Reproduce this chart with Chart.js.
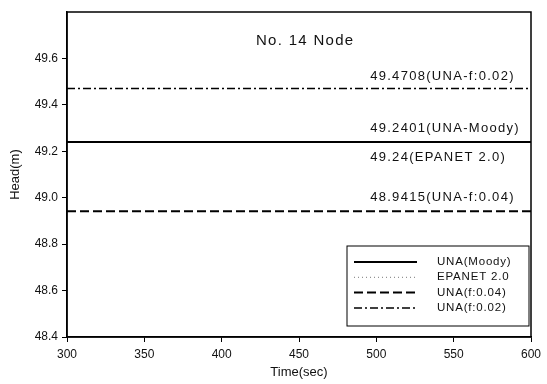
<!DOCTYPE html>
<html lang="en">
<head>
<meta charset="UTF-8" />
<title>No. 14 Node</title>
<script src="https://cdn.jsdelivr.net/npm/chart.js"></script>
<style>
  html, body { margin: 0; padding: 0; background: #fff; }
  #wrap { width: 547px; height: 384px; }
</style>
</head>
<body>
<div id="wrap"><canvas id="chart" width="547" height="384"></canvas></div>
<script>
// time axis (sec)
const times = [300, 600];

// head values (m), constant over time
const seriesNames = ["UNA(Moody)", "EPANET 2.0", "UNA(f:0.04)", "UNA(f:0.02)"];
const unaMoody = [49.2401, 49.2401];
const epanet = [49.24, 49.24];
const unaF004 = [48.9415, 48.9415];
const unaF002 = [49.4708, 49.4708];

// text labels written in the plot
const noteTexts = ["49.4708(UNA-f:0.02)", "49.2401(UNA-Moody)", "49.24(EPANET 2.0)", "48.9415(UNA-f:0.04)"];
const noteValues = [49.4708, 49.2401, 49.24, 48.9415];
const titleText = "No. 14 Node";

const yTicks = [48.4, 48.6, 48.8, 49.0, 49.2, 49.4, 49.6];
const xTicks = [300, 350, 400, 450, 500, 550, 600];

const FONT = "'Liberation Sans', Arial, sans-serif";

function pts(vals) {
    return times.map((t, i) => ({ x: t, y: vals[i] }));
}

// per-series line styles
const styles = [
    { width: 2, dash: [] },
    { width: 1, dash: [1, 3] },
    { width: 2, dash: [9, 4] },
    { width: 1.5, dash: [8, 3, 2, 3] },
];

const seriesData = [unaMoody, epanet, unaF004, unaF002];

const datasets = seriesData.map((vals, i) => ({
    label: seriesNames[i],
    data: pts(vals),
    borderColor: i === 1 ? "#777" : "#000",
    borderWidth: styles[i].width,
    borderDash: styles[i].dash,
    pointRadius: 0,
    fill: false,
    tension: 0,
}));

// frame + text labels + legend box
const decorations = {
    id: "decorations",
    afterDatasetsDraw(chart) {
        const { ctx, chartArea: a, scales } = chart;
        const xs = scales.x, ys = scales.y;
        ctx.save();

        // frame around plot
        ctx.strokeStyle = "#000";
        ctx.lineWidth = 1.5;
        ctx.setLineDash([]);
        ctx.strokeRect(a.left, a.top, a.right - a.left, a.bottom - a.top);

        // title inside plot
        ctx.fillStyle = "#111";
        ctx.font = "15px " + FONT;
        ctx.letterSpacing = "1.3px";
        ctx.textAlign = "center";
        ctx.textBaseline = "middle";
        ctx.fillText(titleText, xs.getPixelForValue(454), ys.getPixelForValue(49.677));

        // value notes
        ctx.font = "13px " + FONT;
        ctx.letterSpacing = "1.3px";
        ctx.textAlign = "left";
        const offsets = [-12, -14, 15, -14];
        const lx = xs.getPixelForValue(496);
        noteTexts.forEach((t, i) => {
            ctx.fillText(t, lx, ys.getPixelForValue(noteValues[i]) + offsets[i]);
        });

        // legend box
        const bx = a.left + 280, by = a.top + 234, bw = 182, bh = 80;
        ctx.fillStyle = "#fff";
        ctx.fillRect(bx, by, bw, bh);
        ctx.lineWidth = 1;
        ctx.strokeRect(bx, by, bw, bh);
        ctx.font = "11.5px " + FONT;
        ctx.letterSpacing = "0.8px";
        ctx.textAlign = "left";
        chart.data.datasets.forEach((ds, i) => {
            const yy = by + 16 + i * 15.3;
            ctx.strokeStyle = ds.borderColor;
            ctx.lineWidth = ds.borderWidth;
            ctx.setLineDash(ds.borderDash);
            ctx.beginPath();
            ctx.moveTo(bx + 7, yy);
            ctx.lineTo(bx + 70, yy);
            ctx.stroke();
            ctx.fillStyle = "#111";
            ctx.fillText(ds.label, bx + 90, yy);
        });
        ctx.restore();
    },
};

new Chart(document.getElementById("chart"), {
    type: "line",
    data: { datasets: datasets },
    options: {
        responsive: false,
        animation: false,
        layout: { padding: { left: 4, top: 12, right: 16, bottom: 0 } },
        plugins: { legend: { display: false }, tooltip: { enabled: false } },
        scales: {
            x: {
                type: "linear",
                min: 300,
                max: 600,
                afterBuildTicks: (s) => { s.ticks = xTicks.map((v) => ({ value: v })); },
                afterFit: (s) => { s.height = 47; },
                grid: { display: true, drawOnChartArea: false, tickLength: 5, color: "#000" },
                border: { display: true, color: "#000", width: 1.5 },
                ticks: { color: "#111", font: { family: FONT, size: 12 }, padding: 5, maxRotation: 0 },
                title: { display: true, text: "Time(sec)", color: "#111", font: { family: FONT, size: 13 }, padding: { top: 1 } },
            },
            y: {
                min: 48.4,
                max: 49.8,
                afterBuildTicks: (s) => { s.ticks = yTicks.map((v) => ({ value: v })); },
                afterFit: (s) => { s.width = 63; },
                grid: { display: true, drawOnChartArea: false, tickLength: 5, color: "#000" },
                border: { display: true, color: "#000", width: 1.5 },
                ticks: { color: "#111", font: { family: FONT, size: 12 }, padding: 4, callback: (v) => v.toFixed(1) },
                title: { display: true, text: "Head(m)", color: "#111", font: { family: FONT, size: 13 }, padding: { top: 4, bottom: 0 } },
            },
        },
    },
    plugins: [decorations],
});
</script>
</body>
</html>
